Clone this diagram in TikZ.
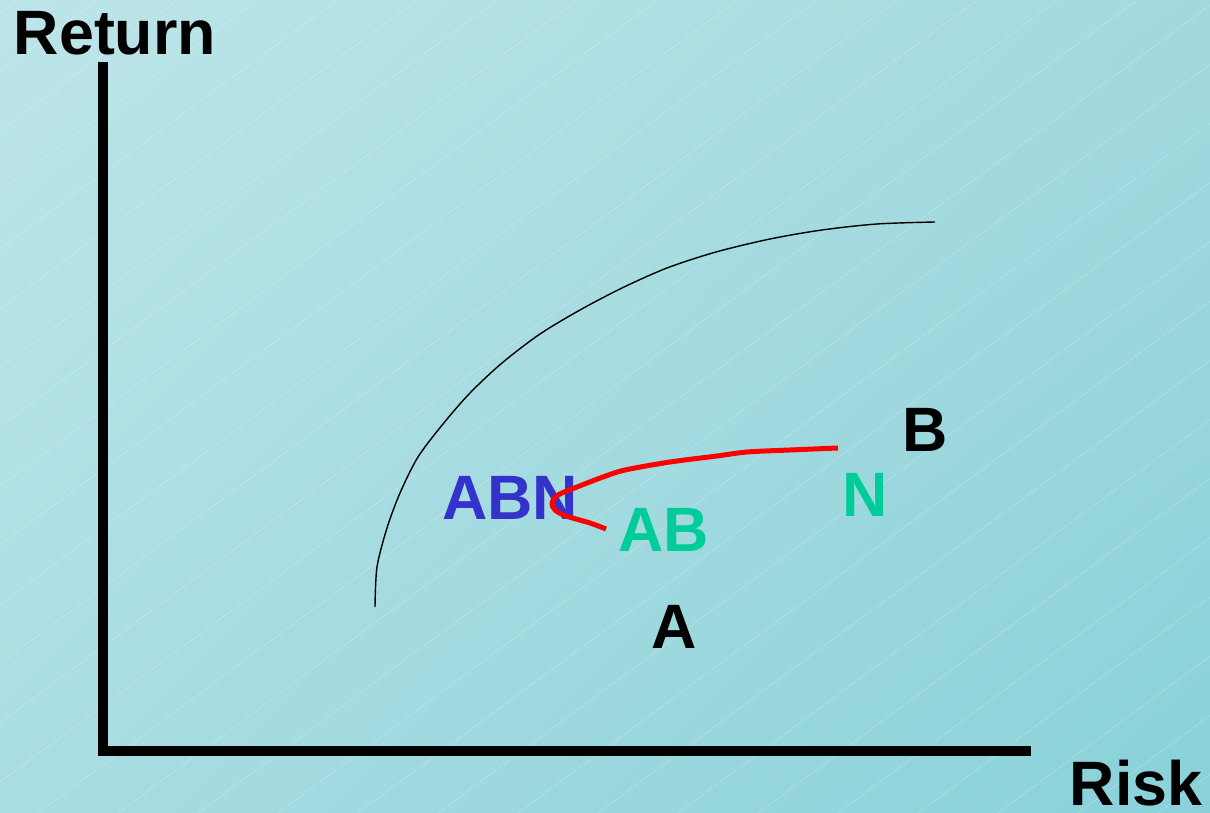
\documentclass[tikz,border=0pt]{standalone}
\usepackage{fontspec}
\setmainfont{Liberation Sans}
\usetikzlibrary{calc, shadings}

\definecolor{bgtl}{HTML}{BDE5E9}
\definecolor{bgtr}{HTML}{A3D9DE}
\definecolor{bgbl}{HTML}{A9DDE2}
\definecolor{bgbr}{HTML}{89D1D9}
\definecolor{abnblue}{HTML}{3333CC}
\definecolor{abgreen}{HTML}{00CC99}

\begin{document}
\begin{tikzpicture}[
    x=0.02cm, y=-0.02cm,
    axis/.style={line width=0.2cm, line cap=butt},
    label/.style={font=\fontsize{35.7}{40}\selectfont\bfseries, inner sep=0pt, anchor=base},
    frontier/.style={line width=0.8pt, black},
    portfolio/.style={line width=0.1cm, red, line join=round},
    hatch/.style={white, opacity=0.25, line width=0.4pt},
]

% Background
\useasboundingbox (0,0) rectangle (1210,813);
\shade[upper left=bgtl, upper right=bgtr, lower left=bgbl, lower right=bgbr] (0,0) rectangle (1210,813);
\begin{scope}
\clip (0,0) rectangle (1210,813);
\foreach \c in {0,...,29}
    \draw[hatch] ({17+80*\c},0) -- ({17+80*\c-1099},813);
\end{scope}

% Axes
\coordinate (origin) at (103,751);
\coordinate (ytop) at (103,62);
\coordinate (xend) at (1031,751);
\draw[axis] (ytop) -- (103,756);
\draw[axis] (98,751) -- (xend);

% Axis labels
\node[label] (return) at (115,55) {Return};
\node[label] (risk) at (1136,805) {Risk};

% Efficient frontier
\draw[frontier] plot[smooth, tension=0.5] coordinates {
    (375,607) (377,567) (387,528) (400,493) (418,457) (443,424) (470,393)
    (502,363) (540,334) (580,310) (622,288) (667,268) (716,252) (770,239)
    (822,230) (877,224) (935,222)};

% Asset labels
\node[label] (b) at (925,452) {B};
\node[label] (a) at (674,648) {A};
\node[label, abgreen] (n) at (865,517) {N};
\node[label, abgreen] (ab) at (664,552) {AB};
\node[label, abnblue] (abn) at (510,520) {ABN};

% Portfolio curve
\draw[portfolio] plot[smooth, tension=0.5] coordinates {
    (606,529) (590,523) (566,516) (555,510) (552,503) (558,495) (577,487)
    (603,477) (625,470) (670,462) (717,456) (747,452) (790,450) (838,448)};

\end{tikzpicture}
\end{document}
